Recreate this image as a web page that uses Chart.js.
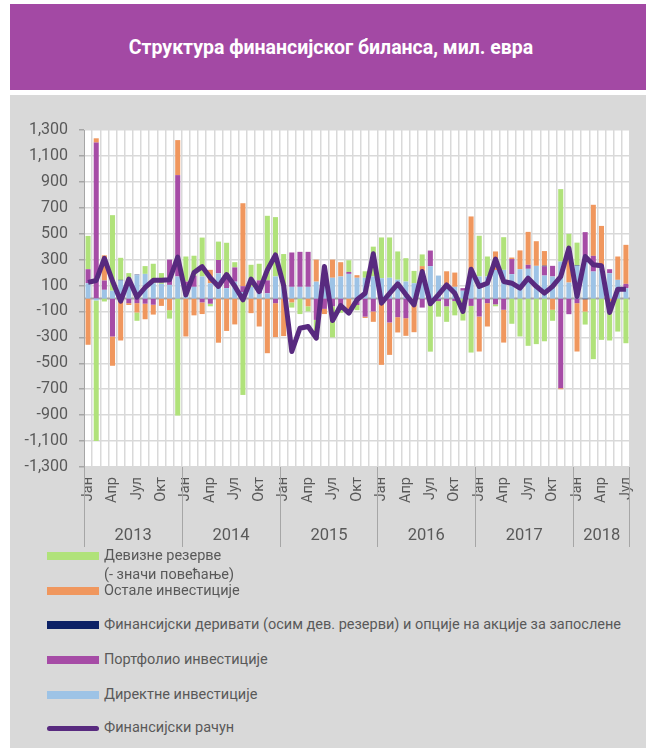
<!DOCTYPE html>
<html>
<head>
<meta charset="utf-8">
<script src="https://cdn.jsdelivr.net/npm/chart.js@4.4.1/dist/chart.umd.min.js"></script>
<style>
  body { margin: 0; width: 646px; height: 748px; position: relative; background: #fff; font-family: Roboto, "Noto Sans", sans-serif; overflow: hidden; }
  #header { position: absolute; left: 10px; top: 4px; width: 636px; height: 86px; background: #a349a4; color: #fff; font-weight: bold; font-size: 19.5px; text-align: center; line-height: 88px; padding-left: 6px; box-sizing: border-box; }
  #panel { position: absolute; left: 10px; top: 95px; width: 636px; height: 653px; background: #d9d9d9; }
  #chart { position: absolute; left: 11px; top: 95px; }
  .leg { position: absolute; left: 47px; display: flex; align-items: flex-start; color: #595959; font-size: 14.5px; }
  .leg .box { width: 52px; height: 8px; margin-top: 6px; }
  .leg .txt { margin-left: 5px; line-height: 19px; white-space: pre-line; }
</style>
</head>
<body>
<div id="header">Структура финансијског биланса, мил. евра</div>
<div id="panel"></div>
<canvas id="chart" width="635" height="460"></canvas>
<div id="legend"></div>
<script>
// categories
const years = ['2013', '2014', '2015', '2016', '2017', '2018']
const months = ['Јан', 'Феб', 'Мар', 'Апр', 'Мај', 'Јун', 'Јул', 'Авг', 'Сеп', 'Окт', 'Нов', 'Дец']
const shownMonths = ['Јан', 'Апр', 'Јул', 'Окт']
const monthCount = 67

// series, mil. EUR
const direct = [
  118, -15, 67, 60, 139, 100, 180, 190, 118, 113, 105, 170,
  100, 90, 170, 118, 194, 80, 130, 50, 90, 40, 40, 170,
  93, 90, 90, 90, 130, 130, 160, 170, 190, 160, 160, 170,
  157, 160, 145, 131, 118, 210, 250, 177, 110, 90, 60, 170,
  170, 170, 220, 221, 188, 226, 229, 252, 177, 170, 285, 123,
  252, 329, 208, 252, 195, 144, 80,
]
const portfolio = [
  108, 1203, 72, -293, -24, -36, -36, -40, -48, 0, 195, 782,
  30, 85, -30, -40, 103, 110, 110, 45, 0, 100, 100, -36,
  0, 265, 270, 270, -165, -80, -60, -50, 15, -50, -140, -100,
  0, -185, -144, -152, 0, -70, 120, -20, -60, -20, 20, -57,
  -139, -36, -45, -87, 116, 0, 31, 0, 70, 82, -692, -121,
  -36, 183, 121, 0, 31, 0, 33,
]
const derivatives = [
  0, 0, 0, 0, 5, 0, 4, 0, 0, 0, 0, 0,
  0, 0, 0, 0, 0, 0, 0, 0, 0, 0, 0, 0,
  0, 0, 0, 0, 0, 0, 0, 0, 0, 0, 0, 0,
  0, 0, 0, 0, 0, 0, 0, 0, 0, 0, 0, 0,
  0, 0, 0, 0, 0, 0, 0, 0, 6, 0, 0, 0,
  4, -6, 0, 5, 0, 0, 0,
]
const other = [
  -357, 33, 194, -226, -300, -14, -72, -120, -76, -57, -90, 270,
  -293, -130, -90, 103, -341, -250, -200, 640, -113, -216, -422, -262,
  -290, -30, 0, -60, 170, -40, 140, 110, -80, 20, -10, -80,
  -512, -250, -118, -136, -260, 40, -40, 0, 100, 110, 0, 463,
  -270, -180, 143, -253, 12, 145, 254, 190, 113, -87, -8, 220,
  -373, -95, 394, 303, -20, 180, 301,
]
const reserves = [
  257, -1085, -23, 583, 170, 96, -64, 60, 150, 83, -65, -903,
  194, 155, 300, -20, 142, 240, 40, -744, 170, 128, 498, 458,
  250, -40, -120, -40, -150, 60, -240, -60, 90, -40, 50, 230,
  314, 311, 218, 180, 95, 90, -370, -120, -120, -110, -170, -360,
  314, 154, -15, 252, -195, -293, -365, -352, -330, -85, 559, 156,
  175, -100, -468, -319, -304, -255, -345,
]
const financialAccount = [
  124, 139, 310, 135, -20, 150, 10, 85, 140, 140, 145, 320,
  28, 200, 246, 160, 93, 185, 95, -10, 149, 54, 220, 336,
  100, -409, -229, -216, -306, 247, -170, -54, -113, -10, 41, 345,
  -36, 40, 113, 30, -49, 208, -41, 30, 105, 40, -100, 226,
  93, 118, 304, 131, 118, 80, 157, 93, 41, 93, 170, 389,
  15, 324, 260, 252, -108, 72, 72,
]
const yTicks = { min: -1300, max: 1300, step: 200 }

const labels = []
for (let i = 0; i < monthCount; i++) labels.push(months[i % 12])

const textGray = '#595959'
const axisGray = '#a6a6a6'
const gridGray = '#d9d9d9'
const fontFamily = 'Roboto, "Noto Sans", sans-serif'

const barSet = (label, data, color) => ({
  type: 'bar',
  label,
  data,
  backgroundColor: color,
  barPercentage: 0.62,
  categoryPercentage: 1,
  order: 1,
})

const datasets = [
  {
    type: 'line',
    label: 'Финансијски рачун',
    data: financialAccount,
    borderColor: '#582a7f',
    backgroundColor: '#582a7f',
    borderWidth: 5,
    pointRadius: 0,
    tension: 0,
    borderJoinStyle: 'round',
    order: 0,
  },
  barSet('Директне инвестиције', direct, '#9dc3e6'),
  barSet('Портфолио инвестиције', portfolio, '#a64ca6'),
  barSet('Финансијски деривати (осим дев. резерви) и опције на акције за запослене', derivatives, '#0c2166'),
  barSet('Остале инвестиције', other, '#f0975e'),
  barSet('Девизне резерве\n(- значи повећање)', reserves, '#b0e27a'),
]

// white plot area + zero line
const plotBackground = {
  id: 'plotBackground',
  beforeDraw(chart) {
    const { ctx, chartArea: a } = chart
    ctx.save()
    ctx.fillStyle = '#ffffff'
    ctx.fillRect(a.left, a.top, a.right - a.left, a.bottom - a.top)
    ctx.restore()
  },
  beforeDatasetsDraw(chart) {
    const { ctx, chartArea: a } = chart
    const y0 = chart.scales.y.getPixelForValue(0)
    ctx.save()
    ctx.strokeStyle = axisGray
    ctx.lineWidth = 2
    ctx.beginPath()
    ctx.moveTo(a.left, y0)
    ctx.lineTo(a.right, y0)
    ctx.stroke()
    ctx.restore()
  },
}

// second row of the category axis: years
const yearAxis = {
  id: 'yearAxis',
  afterDraw(chart) {
    const { ctx, chartArea: a } = chart
    const xs = chart.scales.x
    const step = (xs.right - xs.left) / monthCount
    ctx.save()
    ctx.strokeStyle = axisGray
    ctx.lineWidth = 1
    ctx.fillStyle = textGray
    ctx.font = '16.5px ' + fontFamily
    ctx.textAlign = 'center'
    ctx.textBaseline = 'middle'
    years.forEach((year, i) => {
      const start = i * 12
      const end = Math.min(start + 12, monthCount)
      const x1 = Math.round(xs.left + start * step) + 0.5
      const x2 = xs.left + end * step
      ctx.beginPath()
      ctx.moveTo(x1, a.bottom)
      ctx.lineTo(x1, a.bottom + 80)
      ctx.stroke()
      ctx.fillText(year, (x1 + x2) / 2, a.bottom + 69)
    })
    const xe = Math.round(xs.right) - 0.5
    ctx.beginPath()
    ctx.moveTo(xe, a.bottom)
    ctx.lineTo(xe, a.bottom + 80)
    ctx.stroke()
    ctx.restore()
  },
}

const chart = new Chart(document.getElementById('chart'), {
  data: { labels, datasets },
  options: {
    responsive: false,
    animation: false,
    layout: { padding: { left: 0, top: 35, right: 16, bottom: 0 } },
    plugins: {
      legend: { display: false },
      tooltip: { enabled: false },
    },
    scales: {
      x: {
        stacked: true,
        grid: { color: gridGray, lineWidth: 1.5, drawTicks: false, offset: true },
        border: { display: false },
        ticks: {
          autoSkip: false,
          minRotation: 90,
          maxRotation: 90,
          padding: 10,
          color: textGray,
          font: { family: fontFamily, size: 14.5 },
          callback: (v, i) => (shownMonths.includes(labels[i]) ? labels[i] : ''),
        },
        afterFit: (s) => {
          s.height = 88
          s.paddingLeft = 0
          s.paddingRight = 0
        },
      },
      y: {
        stacked: true,
        min: yTicks.min,
        max: yTicks.max,
        grid: { color: gridGray, lineWidth: 1.5, tickLength: 5, tickColor: axisGray },
        border: { display: true, color: axisGray, width: 1 },
        ticks: {
          stepSize: yTicks.step,
          padding: 11,
          color: textGray,
          font: { family: fontFamily, size: 16 },
          callback: (v) => v.toLocaleString('en-US'),
        },
        afterFit: (s) => {
          s.width = 73
          s.paddingTop = 0
          s.paddingBottom = 0
        },
      },
    },
  },
  plugins: [plotBackground, yearAxis],
})

// legend, listed as in the original
const legendOrder = [5, 4, 3, 2, 1, 0]
const legendTops = [546, 581, 615, 650, 685, 718]
const legend = document.getElementById('legend')
legendOrder.forEach((di, k) => {
  const ds = datasets[di]
  const item = document.createElement('div')
  item.className = 'leg'
  item.style.top = legendTops[k] + 'px'
  const box = document.createElement('div')
  box.className = 'box'
  box.style.background = ds.backgroundColor
  if (ds.type === 'line') {
    box.style.height = '5px'
    box.style.borderRadius = '3px'
    box.style.marginTop = '8px'
  }
  const txt = document.createElement('div')
  txt.className = 'txt'
  txt.textContent = ds.label
  item.appendChild(box)
  item.appendChild(txt)
  legend.appendChild(item)
})
</script>
</body>
</html>
